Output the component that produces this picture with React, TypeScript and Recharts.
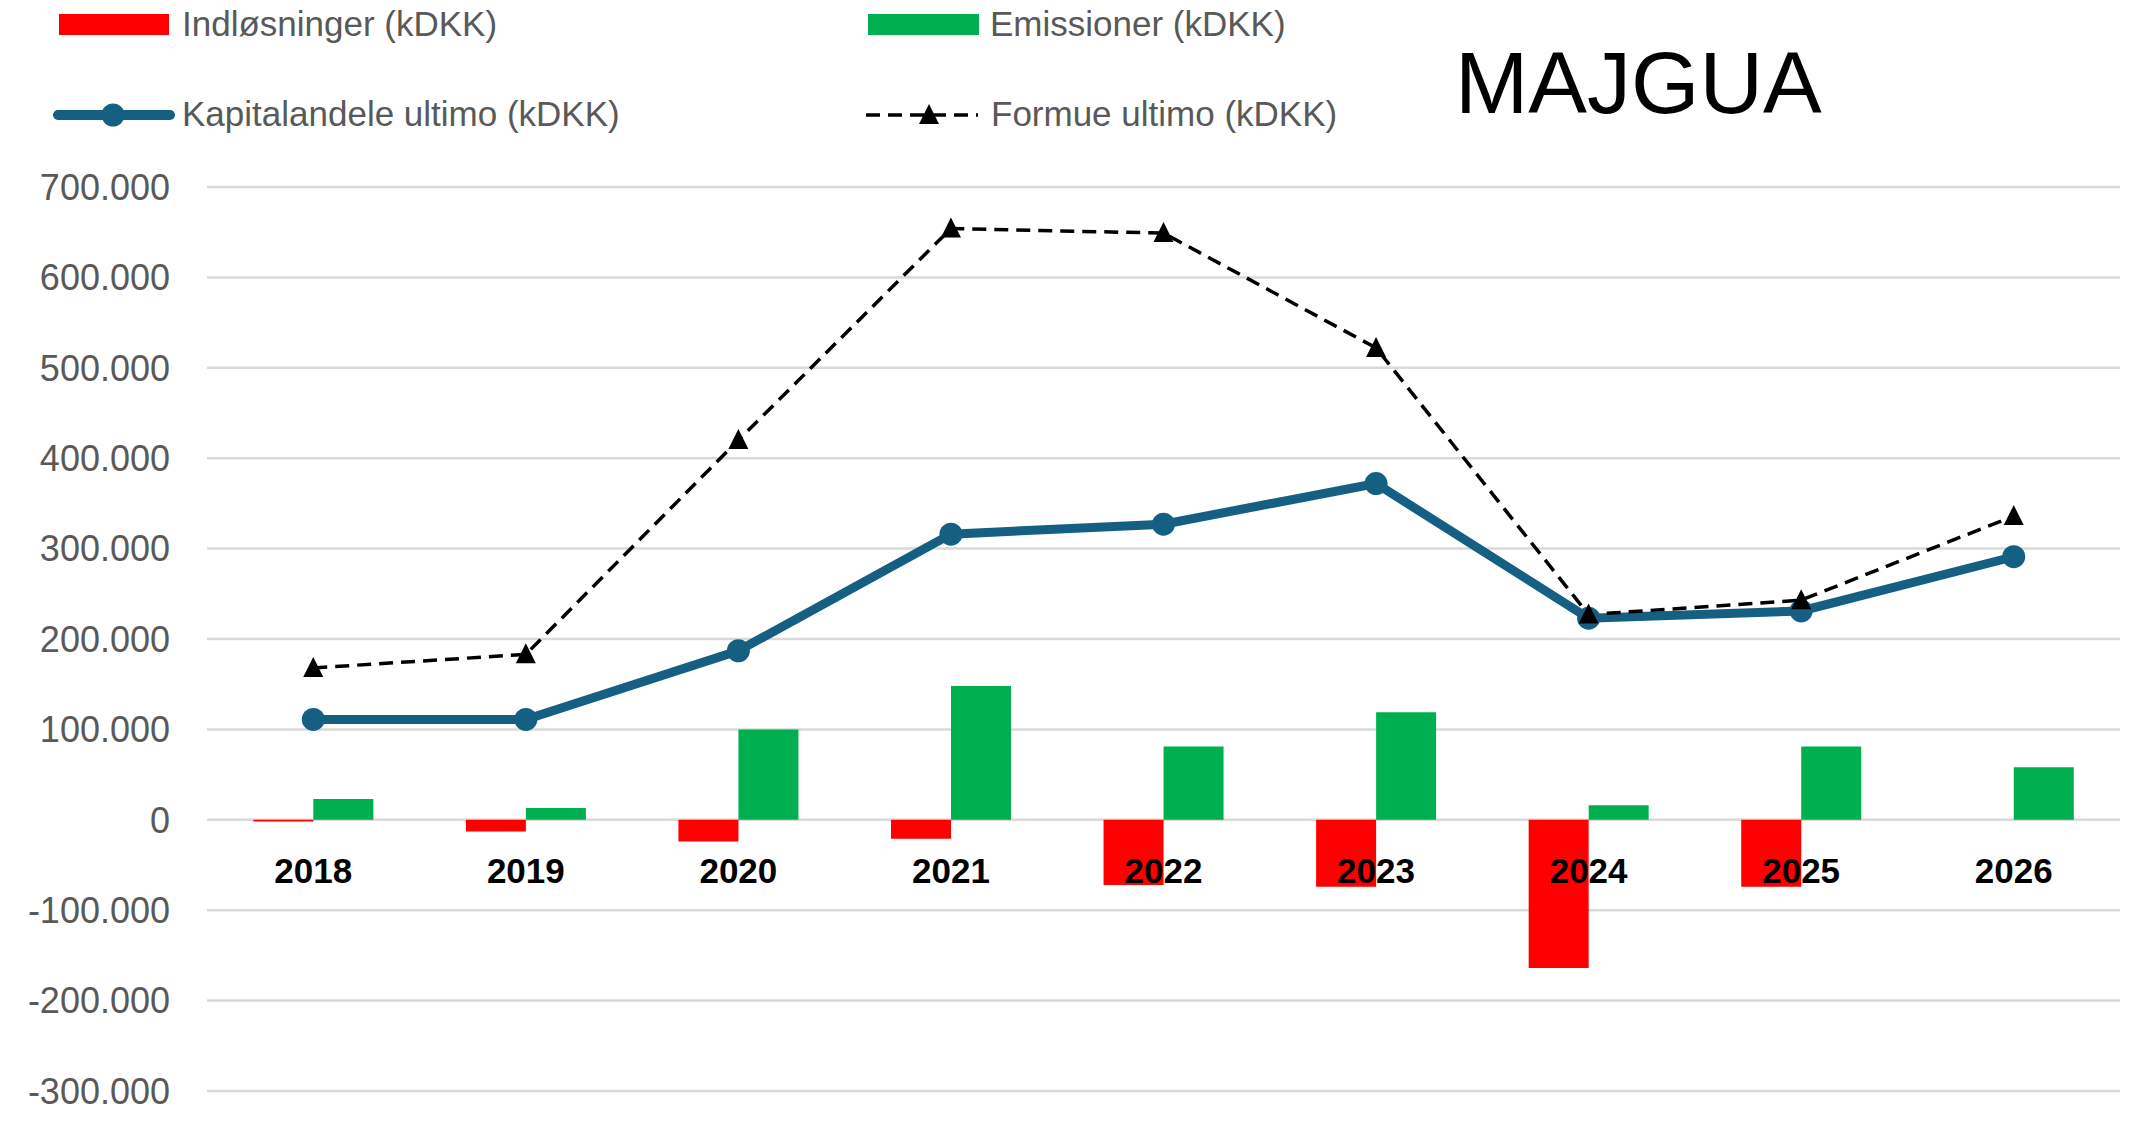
import React from "react";
import {
  Bar,
  CartesianGrid,
  ComposedChart,
  Legend,
  Line,
  ReferenceDot,
  XAxis,
  YAxis,
} from "recharts";

const years = ["2018", "2019", "2020", "2021", "2022", "2023", "2024", "2025", "2026"];
const indlosninger = [-2000, -13000, -24000, -21000, -72000, -74000, -164000, -74000, 0];
const emissioner = [23000, 13000, 100000, 148000, 81000, 119000, 16000, 81000, 58000];
const kapitalandele = [111000, 111000, 187000, 316000, 327000, 372000, 223000, 231000, 291000];
const formue = [168000, 183000, 420000, 654000, 649000, 522000, 227000, 243000, 336000];
const yTicks = [-300000, -200000, -100000, 0, 100000, 200000, 300000, 400000, 500000, 600000, 700000];

const data = years.map((year, i) => ({
  year,
  indlosninger: indlosninger[i],
  emissioner: emissioner[i],
  kapitalandele: kapitalandele[i],
  formue: formue[i],
}));

const FONT = "'Liberation Sans', Arial, sans-serif";
const RED = "#FF0000";
const GREEN = "#00B050";
const BLUE = "#156082";

// danish thousands separator
const fmt = (v: number) => {
  const s = Math.abs(v)
    .toString()
    .replace(/\B(?=(\d{3})+(?!\d))/g, ".");
  return v < 0 ? "-" + s : s;
};

const triangle = (cx: number, cy: number) =>
  `M${cx},${cy - 11} L${cx + 10},${cy + 9} L${cx - 10},${cy + 9} Z`;

const TriangleDot = (props: any) => {
  const { cx, cy } = props;
  if (cx == null || cy == null) return null;
  return <path d={triangle(cx, cy)} fill="#000" />;
};

const legendText = {
  fontFamily: FONT,
  fontSize: 35,
  fill: "#595959",
};

const LegendContent = () => (
  <svg width={1400} height={160}>
    <rect x={59} y={14} width={110} height={21} fill={RED} />
    <text x={182} y={36} {...legendText}>
      Indløsninger (kDKK)
    </text>
    <rect x={868} y={14} width={111} height={21} fill={GREEN} />
    <text x={990} y={36} {...legendText}>
      Emissioner (kDKK)
    </text>
    <line x1={58} y1={115} x2={170} y2={115} stroke={BLUE} strokeWidth={10} strokeLinecap="round" />
    <circle cx={113} cy={115} r={11.5} fill={BLUE} />
    <text x={182} y={126} {...legendText}>
      Kapitalandele ultimo (kDKK)
    </text>
    <line x1={866} y1={115} x2={978} y2={115} stroke="#000" strokeWidth={3.5} strokeDasharray="14 8" />
    <path d={triangle(929, 115)} fill="#000" />
    <text x={991} y={126} {...legendText}>
      Formue ultimo (kDKK)
    </text>
  </svg>
);

export default function App() {
  return (
    <div
      style={{
        position: "absolute",
        left: 0,
        top: 0,
        width: 2131,
        height: 1126,
        background: "#fff",
      }}
    >
      <ComposedChart
        width={2131}
        height={1126}
        data={data}
        margin={{ top: 187, right: 11, bottom: 35, left: 0 }}
        barCategoryGap="21.8%"
        barGap={0}
        style={{ fontFamily: FONT }}
      >
        <CartesianGrid vertical={false} stroke="#D9D9D9" strokeWidth={2.5} />
        <XAxis dataKey="year" hide />
        <YAxis
          width={207}
          domain={[-300000, 700000]}
          ticks={yTicks}
          interval={0}
          axisLine={false}
          tickLine={false}
          tickSize={0}
          tickMargin={37}
          tickFormatter={fmt}
          tick={{ fill: "#595959", fontSize: 36, fontFamily: FONT }}
        />
        <Legend
          layout="horizontal"
          align="center"
          verticalAlign="middle"
          wrapperStyle={{ top: 0, left: 0, width: 1400, height: 160 }}
          content={LegendContent}
        />
        <Bar
          dataKey="indlosninger"
          name="Indløsninger (kDKK)"
          fill={RED}
          isAnimationActive={false}
        />
        <Bar
          dataKey="emissioner"
          name="Emissioner (kDKK)"
          fill={GREEN}
          isAnimationActive={false}
        />
        {years.map((y) => (
          <ReferenceDot
            key={y}
            x={y}
            y={0}
            r={0}
            fill="none"
            stroke="none"
            label={{
              value: y,
              position: "bottom",
              offset: 38,
              fill: "#000",
              fontSize: 35,
              fontWeight: "bold",
              fontFamily: FONT,
            }}
          />
        ))}
        <Line
          dataKey="kapitalandele"
          name="Kapitalandele ultimo (kDKK)"
          stroke={BLUE}
          strokeWidth={9}
          dot={{ r: 11.5, fill: BLUE, stroke: BLUE, strokeWidth: 0 }}
          activeDot={false}
          isAnimationActive={false}
        />
        <Line
          dataKey="formue"
          name="Formue ultimo (kDKK)"
          stroke="#000"
          strokeWidth={3.5}
          strokeDasharray="14 8"
          dot={<TriangleDot />}
          activeDot={false}
          isAnimationActive={false}
        />
      </ComposedChart>
      <svg
        width={2131}
        height={160}
        style={{ position: "absolute", left: 0, top: 0, pointerEvents: "none" }}
      >
        <text x={1455} y={113} fontFamily={FONT} fontSize={88} fill="#000">
          MAJGUA
        </text>
      </svg>
    </div>
  );
}
